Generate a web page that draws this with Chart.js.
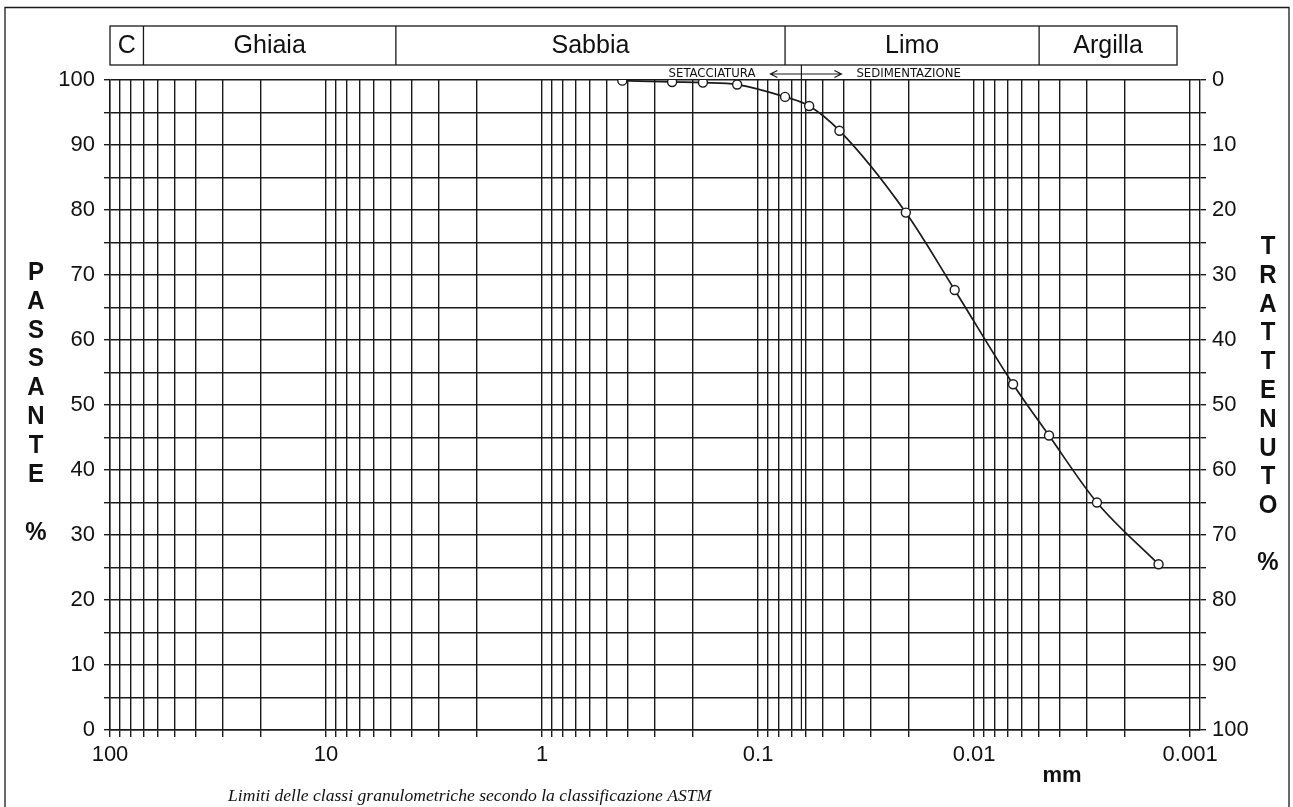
<!DOCTYPE html>
<html>
<head>
<meta charset="utf-8">
<title>Curva granulometrica</title>
<script src="https://cdn.jsdelivr.net/npm/chart.js@4.4.1/dist/chart.umd.min.js"></script>
<style>
  html, body { margin: 0; padding: 0; background: #fff; }
  canvas { display: block; }
</style>
</head>
<body>
<canvas id="granulometria" width="1293" height="807"></canvas>
<script>
// punti: diametro (mm) e passante (%)
const diametri = [0.425, 0.25, 0.18, 0.125, 0.075, 0.058, 0.042, 0.0207, 0.0123, 0.0066, 0.0045, 0.0027, 0.0014];
const passante = [99.9, 99.7, 99.6, 99.3, 97.4, 96.0, 92.2, 79.6, 67.7, 53.2, 45.3, 35.0, 25.5];

// carta logaritmica: decadi e suddivisioni
const decadi = [100, 10, 1, 0.1, 0.01, 0.001];
const etichetteX = ["100", "10", "1", "0.1", "0.01", "0.001"];
const fattori = [1, 0.9, 0.8, 0.7, 0.6, 0.5, 0.4, 0.3, 0.2];

// classi ASTM (intestazione)
const classi = ["C", "Ghiaia", "Sabbia", "Limo", "Argilla"];
const limitiClassi = [100, 70, 4.75, 0.075, 0.005, 0.00115];
const limiteSetacciatura = 0.063;

const righeX = [];
decadi.forEach((d, i) => {
  if (i === decadi.length - 1) { righeX.push(d); return; }
  fattori.forEach(f => righeX.push(d * f));
});

const nero = "#1a1a1a";
const fontSans = '"Liberation Sans", Arial, sans-serif';
Chart.defaults.font.family = fontSans;
Chart.defaults.color = "#111";

const lettere = function (ctx, testo, cx, y0, passo) {
  for (let i = 0; i < testo.length; i++) {
    ctx.save();
    ctx.translate(cx, y0 + i * passo);
    ctx.scale(1, 1.05);
    ctx.fillText(testo[i], 0, 0);
    ctx.restore();
  }
};

const cornice = {
  id: "cornice",
  beforeDraw(chart) {
    const ctx = chart.ctx;
    ctx.save();
    ctx.fillStyle = "#fff";
    ctx.fillRect(0, 0, chart.width, chart.height);
    ctx.restore();
  },
  afterDraw(chart) {
    const { ctx, chartArea } = chart;
    const sx = chart.scales.x;
    ctx.save();
    ctx.strokeStyle = nero;
    ctx.fillStyle = "#111";
    ctx.lineWidth = 1.3;

    // bordo del foglio
    ctx.beginPath();
    ctx.moveTo(5, 807);
    ctx.lineTo(5, 7.5);
    ctx.lineTo(1289, 7.5);
    ctx.lineTo(1289, 807);
    ctx.stroke();

    // intestazione classi
    const top = 26, bot = 65;
    const xs = limitiClassi.map(v => sx.getPixelForValue(v));
    ctx.strokeRect(xs[0], top, xs[xs.length - 1] - xs[0], bot - top);
    ctx.beginPath();
    for (let i = 1; i < xs.length - 1; i++) {
      ctx.moveTo(xs[i], top);
      ctx.lineTo(xs[i], bot);
    }
    ctx.stroke();
    ctx.font = "25px " + fontSans;
    ctx.textAlign = "center";
    ctx.textBaseline = "middle";
    classi.forEach((c, i) => ctx.fillText(c, (xs[i] + xs[i + 1]) / 2, (top + bot) / 2 + 1));

    // setacciatura / sedimentazione
    const xd = sx.getPixelForValue(limiteSetacciatura);
    ctx.lineWidth = 1.2;
    ctx.beginPath();
    ctx.moveTo(xd, bot);
    ctx.lineTo(xd, chartArea.bottom);
    const ay = 74, a1 = xd - 31, a2 = xd + 40;
    ctx.moveTo(a1, ay);
    ctx.lineTo(a2, ay);
    ctx.moveTo(a1 + 7, ay - 3.5);
    ctx.lineTo(a1, ay);
    ctx.lineTo(a1 + 7, ay + 3.5);
    ctx.moveTo(a2 - 7, ay - 3.5);
    ctx.lineTo(a2, ay);
    ctx.lineTo(a2 - 7, ay + 3.5);
    ctx.stroke();
    ctx.font = '13px "Liberation Sans Narrow", "DejaVu Sans Condensed", sans-serif';
    ctx.textAlign = "right";
    ctx.fillText("SETACCIATURA", xd - 46, ay);
    ctx.textAlign = "left";
    ctx.fillText("SEDIMENTAZIONE", xd + 55, ay);

    // titoli assi
    ctx.font = "bold 24px " + fontSans;
    ctx.textAlign = "center";
    lettere(ctx, "PASSANTE", 36, 273, 28.8);
    lettere(ctx, "%", 36, 533, 0);
    lettere(ctx, "TRATTENUTO", 1268, 247, 28.8);
    lettere(ctx, "%", 1268, 563, 0);

    ctx.font = "bold 22px " + fontSans;
    ctx.fillText("mm", 1062, 776);

    ctx.font = 'italic 17.6px "Liberation Serif", "Times New Roman", serif';
    ctx.textAlign = "left";
    ctx.fillText("Limiti delle classi granulometriche secondo la classificazione ASTM", 228, 796);
    ctx.restore();
  },
};

const griglia = { color: nero, lineWidth: 1.4, tickLength: 7, tickColor: nero };

new Chart(document.getElementById("granulometria"), {
  type: "line",
  data: {
    datasets: [
      {
        label: "Passante",
        data: diametri.map((d, i) => ({ x: d, y: passante[i] })),
        borderColor: nero,
        borderWidth: 1.7,
        cubicInterpolationMode: "monotone",
        pointRadius: 4.5,
        pointBorderWidth: 1.4,
        pointBorderColor: nero,
        pointBackgroundColor: "#fff",
        yAxisID: "y",
      },
    ],
  },
  options: {
    responsive: false,
    animation: false,
    devicePixelRatio: 1,
    layout: { padding: { top: 80, left: 0, right: 0, bottom: 0 } },
    plugins: { legend: { display: false }, tooltip: { enabled: false } },
    scales: {
      x: {
        type: "logarithmic",
        reverse: true,
        min: 0.0009,
        max: 100,
        grid: griglia,
        border: { color: nero, width: 1.4 },
        afterBuildTicks: (scale) => {
          scale.ticks = righeX.map(v => ({ value: v }));
        },
        afterFit: (scale) => { scale.height = 77; },
        ticks: {
          autoSkip: false,
          maxRotation: 0,
          minRotation: 0,
          padding: 5,
          font: { size: 22 },
          callback: (value) => {
            const i = decadi.findIndex(d => Math.abs(d - value) / d < 1e-6);
            return i >= 0 ? etichetteX[i] : "";
          },
        },
      },
      y: {
        position: "left",
        min: 0,
        max: 100,
        grid: Object.assign({}, griglia, { tickLength: 6 }),
        border: { color: nero, width: 1.4 },
        afterFit: (scale) => { scale.width = 110; },
        ticks: {
          stepSize: 5,
          padding: 9,
          font: { size: 22 },
          callback: (v) => (v % 10 === 0 ? v : ""),
        },
      },
      y2: {
        position: "right",
        min: 0,
        max: 100,
        reverse: true,
        grid: { drawOnChartArea: false, color: nero, lineWidth: 1.4, tickLength: 6 },
        border: { color: nero, width: 1.4 },
        afterFit: (scale) => { scale.width = 93; },
        ticks: {
          stepSize: 5,
          padding: 6,
          font: { size: 22 },
          callback: (v) => (v % 10 === 0 ? v : ""),
        },
      },
    },
  },
  plugins: [cornice],
});
</script>
</body>
</html>
